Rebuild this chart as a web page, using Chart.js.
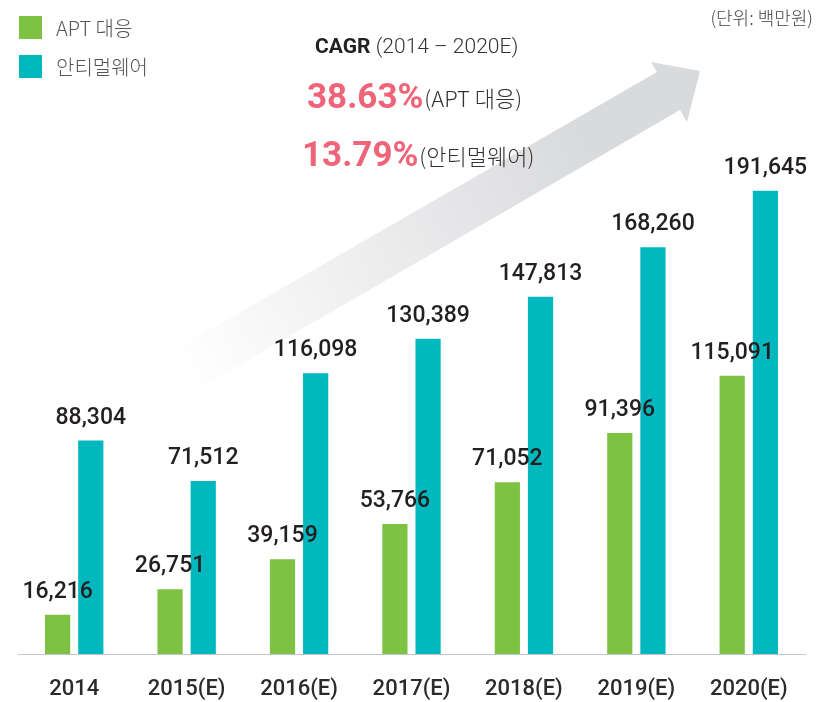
<!DOCTYPE html>
<html>
<head>
<meta charset="utf-8">
<script src="https://cdn.jsdelivr.net/npm/chart.js@4.4.1/dist/chart.umd.min.js"></script>
<style>
  html, body { margin: 0; padding: 0; background: #fff; }
  #wrap { width: 826px; height: 702px; }
</style>
</head>
<body>
<div id="wrap"><canvas id="myChart" width="826" height="702"></canvas></div>
<script>
// 데이터
const categories = ['2014', '2015(E)', '2016(E)', '2017(E)', '2018(E)', '2019(E)', '2020(E)'];
const aptValues = [16216, 26751, 39159, 53766, 71052, 91396, 115091];
const antiValues = [88304, 71512, 116098, 130389, 147813, 168260, 191645];
const seriesNames = ['APT 대응', '안티멀웨어'];
const cagrRates = ['38.63%', '13.79%'];
const cagrPeriod = '(2014 – 2020E)';
const unitText = '(단위: 백만원)';

const GREEN = '#7dc242';
const TEAL = '#00b8bd';
const PINK = '#ef6479';
const KR = '"Noto Sans CJK KR", "Noto Sans", sans-serif';

// 배경 화살표
const arrowPlugin = {
  id: 'arrow',
  beforeDatasetsDraw(chart) {
    const ctx = chart.ctx;
    ctx.save();
    const g = ctx.createLinearGradient(185, 375, 690, 90);
    g.addColorStop(0, 'rgba(217,218,220,0)');
    g.addColorStop(0.35, 'rgba(217,218,220,0.45)');
    g.addColorStop(0.8, 'rgba(217,218,220,1)');
    g.addColorStop(1, 'rgba(217,218,220,1)');
    ctx.fillStyle = g;
    ctx.beginPath();
    ctx.moveTo(180, 347);
    ctx.lineTo(657, 72);
    ctx.lineTo(651, 62);
    ctx.lineTo(700, 71);
    ctx.lineTo(687, 122);
    ctx.lineTo(680, 110);
    ctx.lineTo(200, 388);
    ctx.closePath();
    ctx.fill();
    ctx.restore();
  }
};

// 막대 위 값, 범례, 제목
const textPlugin = {
  id: 'texts',
  afterDatasetsDraw(chart) {
    const ctx = chart.ctx;
    ctx.save();
    ctx.font = '500 23px Roboto';
    ctx.fillStyle = '#231f20';
    ctx.textAlign = 'center';
    ctx.textBaseline = 'alphabetic';
    chart.data.datasets.forEach((ds, i) => {
      chart.getDatasetMeta(i).data.forEach((bar, j) => {
        ctx.fillText(ds.data[j].toLocaleString('en-US'), bar.x, bar.y - 17);
      });
    });
    ctx.restore();
  },
  afterDraw(chart) {
    const ctx = chart.ctx;
    ctx.save();
    // 범례
    ctx.textBaseline = 'middle';
    ctx.textAlign = 'left';
    chart.data.datasets.forEach((ds, i) => {
      const y = 16 + i * 39;
      ctx.fillStyle = ds.backgroundColor;
      ctx.fillRect(19, y, 23, 23);
      ctx.fillStyle = '#555';
      ctx.font = '300 20px ' + KR;
      ctx.fillText(ds.label, 56, y + 12);
    });

    // 단위
    ctx.textAlign = 'right';
    ctx.fillStyle = '#444';
    ctx.font = '300 18px ' + KR;
    ctx.fillText(unitText, 813, 18);

    // CAGR
    ctx.textAlign = 'left';
    ctx.textBaseline = 'alphabetic';
    ctx.font = 'bold 21px Roboto';
    ctx.fillStyle = '#222';
    ctx.fillText('CAGR', 315, 53);
    let w = ctx.measureText('CAGR ').width;
    ctx.font = '300 21px Roboto';
    ctx.fillStyle = '#333';
    ctx.fillText(cagrPeriod, 315 + w, 53);

    const rows = [[307, 108], [302, 166]];
    cagrRates.forEach((r, i) => {
      const [x, y] = rows[i];
      ctx.font = 'bold 35px Roboto';
      ctx.fillStyle = PINK;
      ctx.fillText(r, x, y);
      const rw = ctx.measureText(r).width;
      ctx.font = '300 22px ' + KR;
      ctx.fillStyle = '#333';
      ctx.fillText('(' + seriesNames[i] + ')', x + rw + 1, y - 1);
    });
    ctx.restore();
  }
};

const config = {
  type: 'bar',
  data: {
    labels: categories,
    datasets: [
      {
        label: seriesNames[0],
        data: aptValues,
        backgroundColor: GREEN,
        categoryPercentage: 0.59,
        barPercentage: 0.76
      },
      {
        label: seriesNames[1],
        data: antiValues,
        backgroundColor: TEAL,
        categoryPercentage: 0.59,
        barPercentage: 0.76
      }
    ]
  },
  options: {
    responsive: false,
    animation: false,
    layout: { padding: { left: 18, right: 21, top: 0, bottom: 0 } },
    plugins: {
      legend: { display: false },
      tooltip: { enabled: false }
    },
    scales: {
      x: {
        grid: { display: false, drawTicks: false },
        border: { display: true, color: '#c4c4c6', width: 1 },
        ticks: {
          color: '#2b2b2b',
          font: { family: 'Roboto', size: 22, weight: '500' },
          padding: 22
        },
        afterFit(scale) { scale.height = 48; }
      },
      y: {
        display: false,
        min: 0,
        max: 270500
      }
    }
  },
  plugins: [arrowPlugin, textPlugin]
};

const myChart = new Chart(document.getElementById('myChart'), config);
</script>
</body>
</html>
